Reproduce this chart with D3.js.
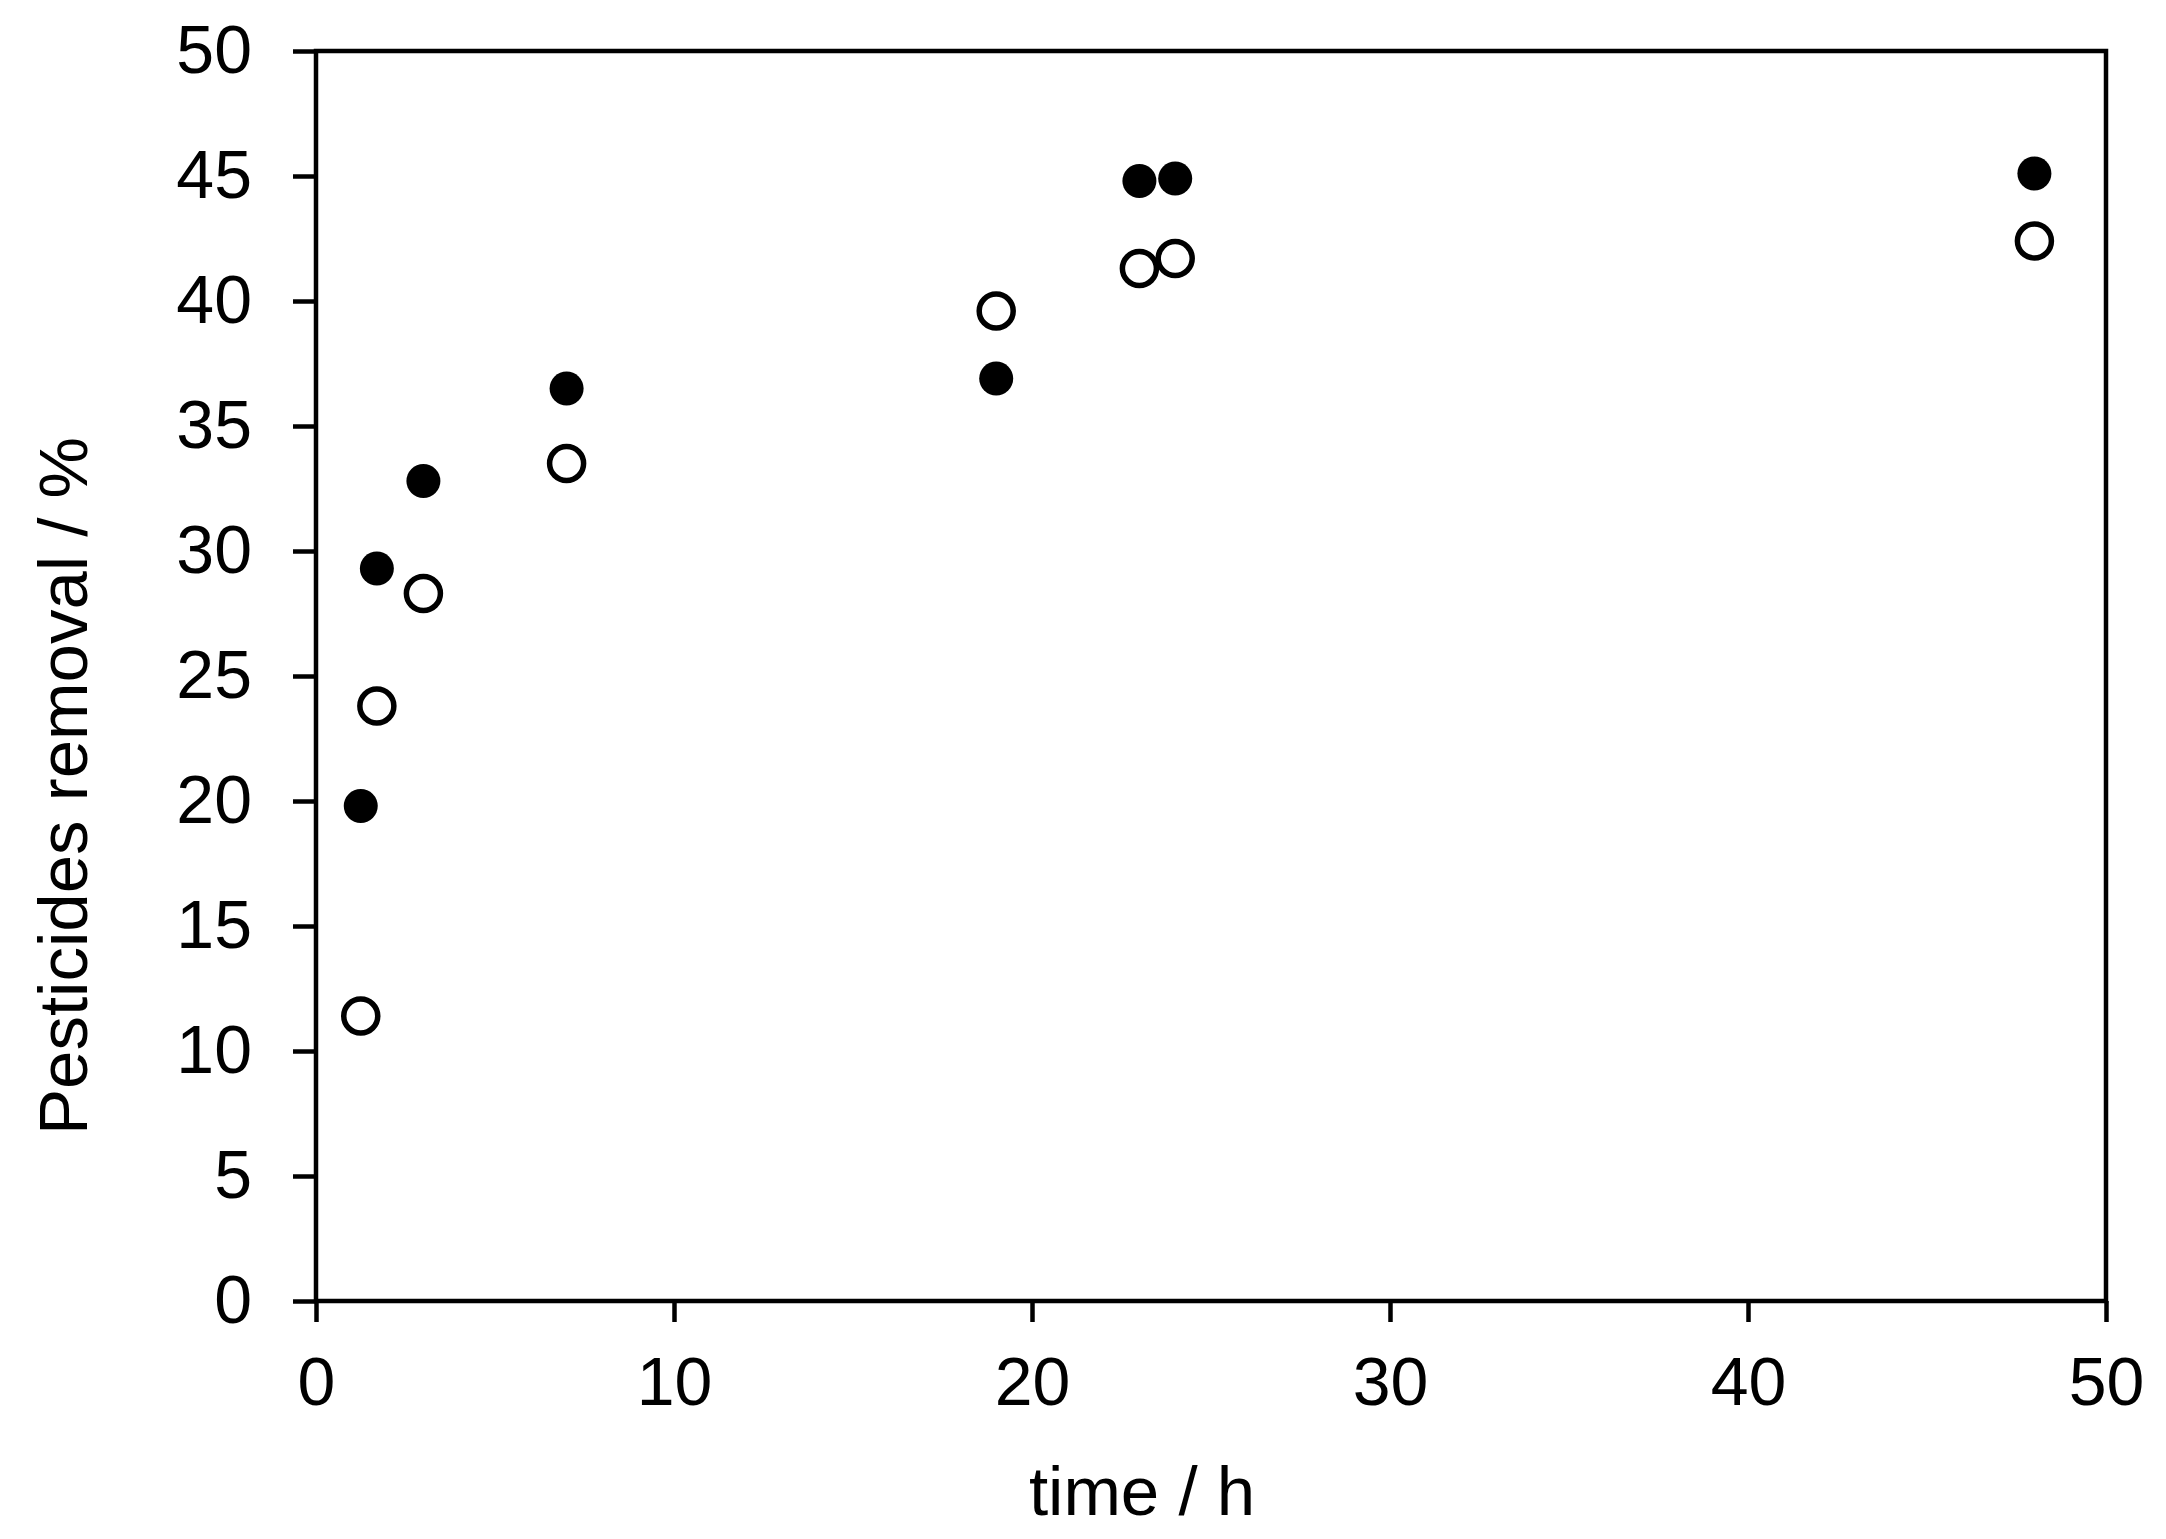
<!DOCTYPE html>
<html lang="en">
<head>
    <meta charset="utf-8"/>
    <title>Pesticides removal vs time</title>
    <script src="https://d3js.org/d3.v7.min.js"></script>
    <style>
        html, body { margin: 0; padding: 0; background: #fff; }
        svg { display: block; font-family: "Liberation Sans", Arial, sans-serif; }
    </style>
</head>
<body>
    <div id="chart"></div>

    <script>
        // time points (h)
        const timeValues = [1.25, 1.7, 3, 7, 19, 23, 24, 48];
        // filled markers series (%)
        const filledSeries = [19.8, 29.3, 32.8, 36.5, 36.9, 44.8, 44.9, 45.1];
        // open markers series (%)
        const openSeries = [11.4, 23.8, 28.3, 33.5, 39.6, 41.3, 41.7, 42.4];
        const xTicks = [0, 10, 20, 30, 40, 50];
        const yTicks = [0, 5, 10, 15, 20, 25, 30, 35, 40, 45, 50];

        const width = 2166, height = 1539;
        const margin = {top: 51, right: 60, bottom: 238, left: 316};
        const innerWidth = width - margin.left - margin.right;
        const innerHeight = height - margin.top - margin.bottom;

        const svg = d3.select('#chart')
            .append('svg')
            .attr('width', width)
            .attr('height', height);

        const g = svg.append('g')
            .attr('transform', `translate(${margin.left},${margin.top})`);

        const x = d3.scaleLinear().domain([0, 50]).range([0, innerWidth]);
        const y = d3.scaleLinear().domain([0, 50]).range([innerHeight, 0]);

        // X axis
        const xAxis = g.append('g')
            .attr('transform', `translate(0,${innerHeight})`)
            .call(d3.axisBottom(x).tickValues(xTicks).tickSizeInner(21).tickSizeOuter(0).tickPadding(35));
        xAxis.select('.domain').remove();

        // Y axis
        const yAxis = g.append('g')
            .call(d3.axisLeft(y).tickValues(yTicks).tickSizeInner(23).tickSizeOuter(0).tickPadding(41));
        yAxis.select('.domain').remove();

        g.selectAll('.tick line')
            .attr('stroke', '#000')
            .attr('stroke-width', 4.5);
        g.selectAll('.tick text')
            .attr('fill', '#000')
            .style('font-size', '68px')
            .style('font-family', '"Liberation Sans", Arial, sans-serif');

        // plot frame
        g.append('rect')
            .attr('x', 0)
            .attr('y', 0)
            .attr('width', innerWidth)
            .attr('height', innerHeight)
            .attr('fill', 'none')
            .attr('stroke', '#000')
            .attr('stroke-width', 4.5);

        // open markers
        g.selectAll('.open')
            .data(timeValues.map((t, i) => ({t: t, v: openSeries[i]})))
            .enter().append('circle')
            .attr('class', 'open')
            .attr('cx', d => x(d.t))
            .attr('cy', d => y(d.v))
            .attr('r', 17)
            .attr('fill', '#fff')
            .attr('stroke', '#000')
            .attr('stroke-width', 5.5);

        // filled markers
        g.selectAll('.filled')
            .data(timeValues.map((t, i) => ({t: t, v: filledSeries[i]})))
            .enter().append('circle')
            .attr('class', 'filled')
            .attr('cx', d => x(d.t))
            .attr('cy', d => y(d.v))
            .attr('r', 17)
            .attr('fill', '#000');

        // axis titles
        svg.append('text')
            .attr('x', 1142)
            .attr('y', 1515)
            .attr('text-anchor', 'middle')
            .attr('fill', '#000')
            .style('font-size', '69px')
            .text('time / h');

        svg.append('text')
            .attr('transform', 'translate(87,786) rotate(-90)')
            .attr('text-anchor', 'middle')
            .attr('fill', '#000')
            .style('font-size', '69px')
            .text('Pesticides removal / %');
    </script>
</body>
</html>
